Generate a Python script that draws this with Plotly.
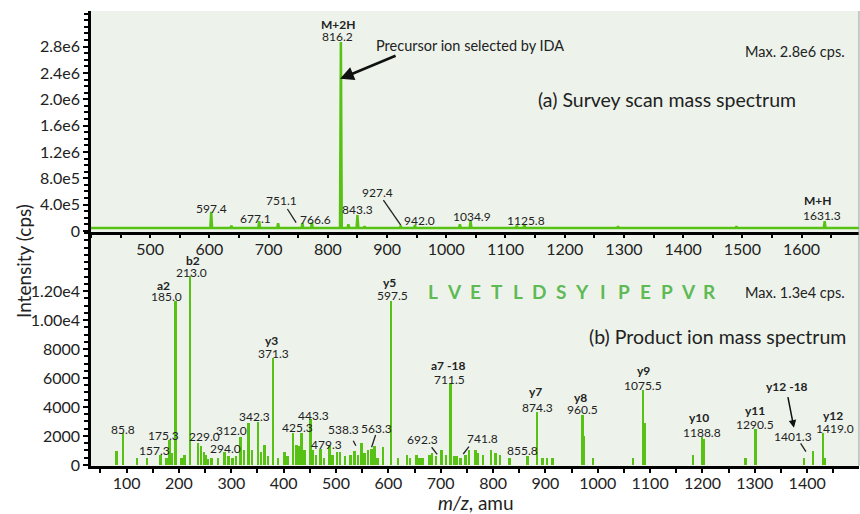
import plotly.graph_objects as go

# ---------------- data ----------------
# (a) survey scan: peak positions (m/z as drawn) and intensities (cps)
survey_mz = [603, 637, 684, 716, 757, 773, 822, 834.7, 850, 862, 923, 947,
             1023, 1041, 1119, 1132, 1290, 1490, 1639]
survey_int = [2.9e5, 0.8e5, 1.5e5, 1.2e5, 1.2e5, 1.3e5, 2.87e6, 1.0e5, 2.4e5, 0.7e5, 0.8e5, 0.9e5,
              1.0e5, 1.5e5, 0.8e5, 1.0e5, 0.7e5, 0.7e5, 1.5e5]
survey_baseline = 4.5e4
survey_span = [400, 1697]

# (b) product ion scan: peak positions (m/z as drawn) and intensities (cps)
product_mz = [80.9, 93.5, 120, 140, 165.5, 176.4, 182.7, 187, 193.6, 205, 211, 221.5,
              236.8, 242, 248, 252, 256, 263, 275, 287.8, 295, 303, 309, 318, 325,
              333.6, 340, 351.4, 357, 364, 370, 380, 390, 402, 408, 418, 424.7, 430,
              434.3, 440, 451.5, 456, 462, 471, 478, 488, 494, 502, 508, 518, 528,
              536, 542, 549, 555, 562, 568, 574, 580, 590, 606, 619, 636, 642, 654,
              660, 666, 679, 684, 692, 701.7, 711, 719.5, 727, 731, 738, 748, 754,
              767, 771, 781, 797, 805, 814, 832, 866, 884, 895, 904, 914, 971, 974,
              991, 1068, 1086.8, 1090, 1182, 1199.5, 1203, 1283, 1301.5, 1394,
              1411.6, 1430.7, 1434]
product_int = [970, 2190, 460, 460, 690, 460, 1720, 800, 11330, 460, 690, 13060,
               1500, 1300, 900, 700, 400, 460, 460, 900, 600, 460, 600, 1900, 1000,
               2900, 1000, 2950, 900, 1400, 600, 7360, 460, 900, 600, 2200, 1400, 1300,
               2200, 1000, 3200, 1000, 700, 1100, 460, 1300, 700, 900, 900, 600, 700,
               970, 700, 1500, 800, 1000, 1100, 1300, 460, 1250, 11330, 460, 700, 460, 700,
               460, 500, 700, 800, 600, 1000, 700, 5630, 600, 600, 460, 700, 1000,
               1000, 800, 700, 1000, 800, 700, 460, 600, 3650, 460, 460, 460, 3420, 2000,
               460, 460, 5170, 2900, 690, 1950, 1800, 460, 2460, 460,
               970, 2230, 500]

top_xticks = [500, 600, 700, 800, 900, 1000, 1100, 1200, 1300, 1400, 1500, 1600]
bot_xticks = [100, 200, 300, 400, 500, 600, 700, 800, 900, 1000, 1100, 1200, 1300, 1400]
top_tickvals = [0, 4e5, 8e5, 1.2e6, 1.6e6, 2.0e6, 2.4e6, 2.8e6]
top_ticktext = ["0", "4.0e5", "8.0e5", "1.2e6", "1.6e6", "2.0e6", "2.4e6", "2.8e6"]
bot_tickvals = [0, 2000, 4000, 6000, 8000, 10000, 12000]
bot_ticktext = ["0", "2000", "4000", "6000", "8000", "1.00e4", "1.20e4"]

sequence = list("LVETLDSYIPEPVR")

# labels: (text, x, y, bold)
survey_labels = [
    ("M+2H", 817.3, 3.14e6, True), ("816.2", 815.6, 2.95e6, False),
    ("597.4", 603, 3.44e5, False), ("677.1", 677.2, 1.93e5, False),
    ("751.1", 722.3, 4.70e5, False), ("766.6", 778.5, 1.82e5, False),
    ("843.3", 850.5, 3.34e5, False), ("927.4", 884.3, 5.81e5, False),
    ("942.0", 954.5, 1.67e5, False), ("1034.9", 1043, 2.17e5, False),
    ("1125.8", 1134.6, 1.67e5, False), ("M+H", 1628, 4.70e5, True),
    ("1631.3", 1633.7, 2.43e5, False),
]
product_labels = [
    ("a2", 169.9, 12414, True), ("185.0", 176.4, 11607, False),
    ("b2", 226.1, 14090, True), ("213.0", 224.2, 13262, False),
    ("y5", 603, 12600, True), ("597.5", 607.4, 11676, False),
    ("y3", 377, 8572, True), ("371.3", 380, 7703, False),
    ("85.8", 92.4, 2462, False), ("175.3", 169.9, 2021, False),
    ("157.3", 154, 966, False), ("229.0", 249.6, 1952, False),
    ("312.0", 300.6, 2345, False), ("294.0", 289.7, 1152, False),
    ("342.3", 345.1, 3379, False), ("443.3", 457.8, 3448, False),
    ("425.3", 426.7, 2572, False), ("479.3", 482, 1428, False),
    ("538.3", 513.7, 2462, False), ("563.3", 577.6, 2531, False),
    ("692.3", 665.4, 1772, False), ("a7 -18", 714.3, 6828, True),
    ("711.5", 717.6, 5910, False), ("741.8", 780, 1841, False),
    ("855.8", 856.4, 986, False), ("y7", 881.9, 5055, True),
    ("874.3", 884.3, 3979, False), ("y8", 967.8, 4669, True),
    ("960.5", 970.3, 3793, False), ("y9", 1086.8, 6503, True),
    ("1075.5", 1086.8, 5517, False), ("y10", 1193.8, 3262, True),
    ("1188.8", 1198.4, 2255, False), ("y11", 1300.2, 3745, True),
    ("1290.5", 1300.2, 2807, False), ("y12 -18", 1360.7, 5400, True),
    ("1401.3", 1373.3, 1952, False), ("y12", 1449.7, 3448, True),
    ("1419.0", 1453, 2483, False),
]
survey_leaders = [(731.7, 3.34e5, 746.4, 1.26e5), (893.8, 4.70e5, 923.1, 0.91e5)]
product_leaders = [(532.9, 1676, 538, 1331), (575.6, 2069, 568, 1221),
                   (682.6, 1221, 693.3, 738), (753.9, 1262, 743, 759),
                   (1387.5, 1497, 1397.6, 917)]

# ---------------- styling ----------------
GREEN = "#58C214"
SEQ_GREEN = "#5DBA55"
BG = "#EDF3EB"
FONT = "Lato"
TXT = "#222222"

# survey trace built from the peak list
pairs = sorted(zip(survey_mz, survey_int))
xs = [survey_span[0]]
ys = [survey_baseline]
for m, h in pairs:
    xs += [m - 1.5, m, m + 1.5]
    ys += [survey_baseline, h, survey_baseline]
xs.append(survey_span[1])
ys.append(survey_baseline)

fig = go.Figure()
fig.add_trace(go.Scatter(x=xs, y=ys, mode="lines", line=dict(color=GREEN, width=2.5),
                         xaxis="x", yaxis="y", hoverinfo="skip", showlegend=False))
fig.add_trace(go.Bar(x=product_mz, y=product_int, width=3.6, marker=dict(color=GREEN, line_width=0),
                     xaxis="x2", yaxis="y2", showlegend=False))

split = (466 - 232) / 455.0

axis_common = dict(showline=True, linecolor="black", linewidth=2.5, ticks="outside",
                   tickcolor="black", tickwidth=2, showgrid=False, zeroline=False,
                   tickfont=dict(family=FONT, size=16, color=TXT))

fig.update_layout(
    width=860, height=514,
    margin=dict(l=91, r=1, t=11, b=48),
    paper_bgcolor="white", plot_bgcolor=BG,
    font=dict(family=FONT, color=TXT),
    xaxis=dict(domain=[0, 1], anchor="y", range=[400, 1697], tickmode="array", tickvals=top_xticks,
               ticklen=3, ticklabelstandoff=-2,
               minor=dict(dtick=50, tick0=0, ticks="outside", ticklen=3, tickwidth=2, tickcolor="black"),
               **axis_common),
    yaxis=dict(domain=[split, 1], anchor="x", range=[-1.5e4, 3.34e6], tickmode="array",
               tickvals=top_tickvals, ticktext=top_ticktext, ticklen=5,
               minor=dict(dtick=1e5, tick0=0, ticks="outside", ticklen=4, tickwidth=2, tickcolor="black"),
               **axis_common),
    xaxis2=dict(domain=[0, 1], anchor="y2", range=[32, 1499], tickmode="array", tickvals=bot_xticks,
                ticklen=4, ticklabelstandoff=-3,
                minor=dict(dtick=50, tick0=0, ticks="outside", ticklen=4, tickwidth=2, tickcolor="black"),
                **axis_common),
    yaxis2=dict(domain=[0, split], anchor="x2", range=[-70, 16070], tickmode="array",
                tickvals=bot_tickvals, ticktext=bot_ticktext, ticklen=5,
                minor=dict(dtick=500, tick0=0, ticks="outside", ticklen=4, tickwidth=2, tickcolor="black"),
                **axis_common),
    bargap=0,
)

ann = []
def lab(text, x, y, bold, xr, yr, size=12):
    ann.append(dict(text=("<b>%s</b>" % text) if bold else text, x=x, y=y, xref=xr, yref=yr,
                    showarrow=False, xanchor="center", yanchor="middle",
                    font=dict(family=FONT, size=size, color=TXT)))

for t, x, y, b in survey_labels:
    lab(t, x, y, b, "x", "y")
for t, x, y, b in product_labels:
    lab(t, x, y, b, "x2", "y2")

# big text
lab("Precursor ion selected by IDA", 1040, 2.82e6, False, "x", "y", 14.5)
lab("Max. 2.8e6 cps.", 1588.6, 2.72e6, False, "x", "y", 14.5)
lab("(a) Survey scan mass spectrum", 1373, 1.99e6, False, "x", "y", 19.5)
lab("Max. 1.3e4 cps.", 1376.6, 11910, False, "x2", "y2", 14.5)
lab("(b) Product ion mass spectrum", 1228.8, 8848, False, "x2", "y2", 19.5)

for i, ch in enumerate(sequence):
    ann.append(dict(text="<b>%s</b>" % ch, x=685.6 + 40.6 * i, y=11952, xref="x2", yref="y2",
                    showarrow=False, xanchor="center", yanchor="middle",
                    font=dict(family=FONT, size=19, color=SEQ_GREEN)))

# arrows
ann.append(dict(text="", x=820.7, y=2.31e6, ax=916.9, ay=2.67e6, xref="x", yref="y",
                axref="x", ayref="y", showarrow=True, arrowhead=2, arrowsize=1.1,
                arrowwidth=2.5, arrowcolor="#111"))
ann.append(dict(text="", x=1374.7, y=2572, ax=1362.7, ay=4779, xref="x2", yref="y2",
                axref="x2", ayref="y2", showarrow=True, arrowhead=2, arrowsize=1,
                arrowwidth=1.5, arrowcolor="#111"))

# axis titles
ann.append(dict(text="Intensity (cps)", x=-0.0885, y=(466 - 261) / 455.0, xref="paper", yref="paper",
                textangle=-90, showarrow=False, xanchor="center", yanchor="middle",
                font=dict(family=FONT, size=19, color=TXT)))
ann.append(dict(text="<i>m/z</i>, amu", x=(476 - 91) / 768.0, y=(466 - 502) / 455.0,
                xref="paper", yref="paper", showarrow=False, xanchor="center", yanchor="middle",
                font=dict(family=FONT, size=19, color=TXT)))

shapes = []
for x0, y0, x1, y1 in survey_leaders:
    shapes.append(dict(type="line", x0=x0, y0=y0, x1=x1, y1=y1, xref="x", yref="y",
                       line=dict(color="#222", width=1.3)))
for x0, y0, x1, y1 in product_leaders:
    shapes.append(dict(type="line", x0=x0, y0=y0, x1=x1, y1=y1, xref="x2", yref="y2",
                       line=dict(color="#222", width=1.3)))
shapes.append(dict(type="line", x0=1, x1=1, y0=0, y1=1, xref="paper", yref="paper",
                   line=dict(color="#999", width=1)))

fig.update_layout(annotations=ann, shapes=shapes)
fig.write_html("out.html", config={"displayModeBar": False},
               post_script="document.body.style.margin='0px';document.body.style.overflow='hidden';")
